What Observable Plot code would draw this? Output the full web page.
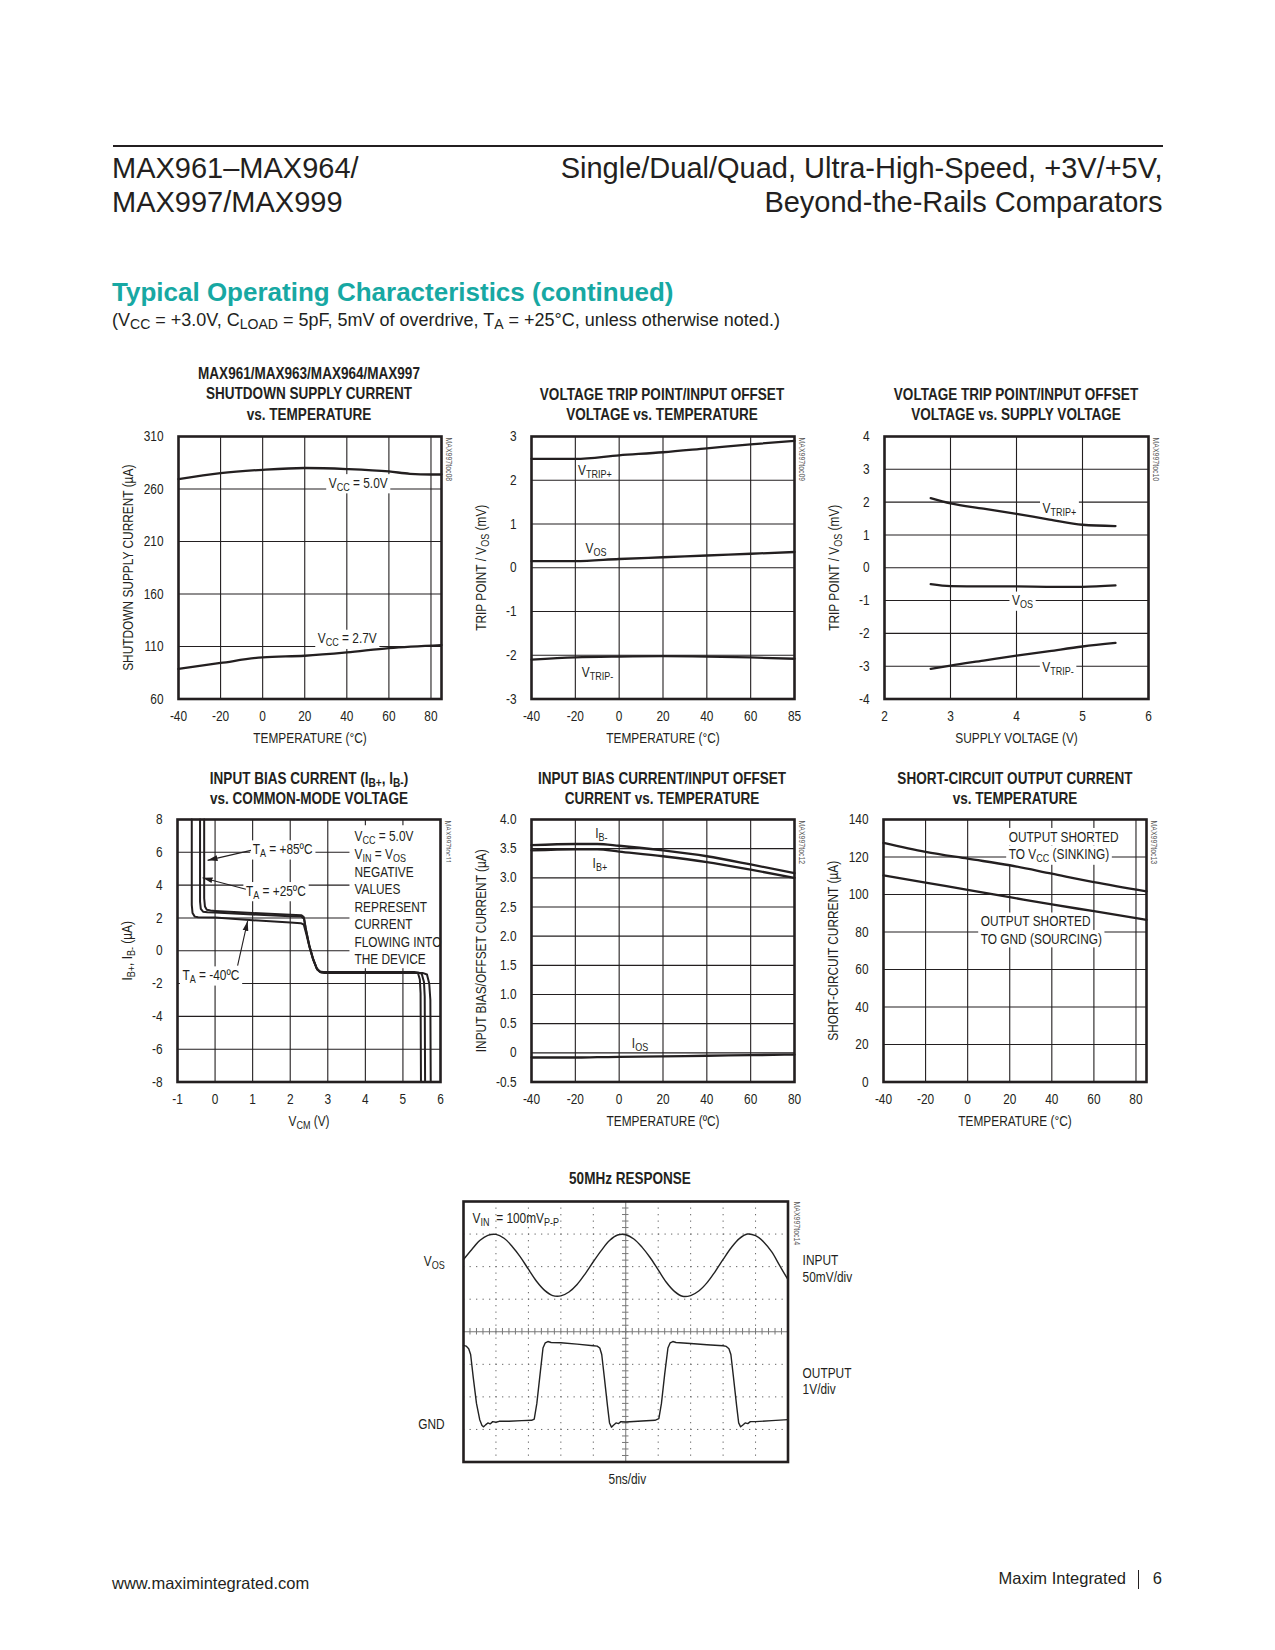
<!DOCTYPE html>
<html><head><meta charset="utf-8">
<script src="https://cdn.jsdelivr.net/npm/d3@7"></script>
<script src="https://cdn.jsdelivr.net/npm/@observablehq/plot@0.6"></script>
<style>
body{margin:0;background:#fff;}
#page{position:relative;width:1275px;height:1650px;overflow:hidden;background:#fff;color:#231f20;font-family:"Liberation Sans",Arial,sans-serif;}
.abs{position:absolute;white-space:nowrap;line-height:1;}
.ttl{position:absolute;white-space:nowrap;text-align:center;font-weight:bold;font-size:16.5px;line-height:20.5px;}
.abs sub{font-size:78%;vertical-align:-0.22em;line-height:0;}
.ttl sub{font-size:75%;vertical-align:-0.25em;line-height:0;}
</style></head>
<body><div id="page"></div>
<script>
// ---------------- DATA ----------------
// Chart 1: shutdown supply current vs temperature
const temp1 = [-40, -20, 0, 20, 40, 60, 70, 80, 85];
const shdn5V = [269.4, 275.1, 278.3, 280.0, 279.0, 276.7, 274.5, 273.8, 273.8];
const temp1b = [-40, -20, 0, 20, 40, 60, 85];
const shdn27V = [88.6, 94.3, 99.7, 101.2, 104.4, 108.5, 111.4];
const xTicks1 = [-40, -20, 0, 20, 40, 60, 80];
const xLabels1 = ["-40", "-20", "0", "20", "40", "60", "80"];
const yTicks1 = [60, 110, 160, 210, 260, 310];
const yLabels1 = ["60", "110", "160", "210", "260", "310"];

// Chart 2: trip point / Vos vs temperature (last tick printed as 85)
const temp2 = [-40, -20, 0, 20, 40, 60, 80];
const vtripPlusT = [2.49, 2.49, 2.57, 2.64, 2.73, 2.82, 2.90];
const vosT = [0.15, 0.15, 0.20, 0.24, 0.28, 0.32, 0.36];
const vtripMinusT = [-2.10, -2.05, -2.03, -2.02, -2.03, -2.05, -2.08];
const xTicks2 = [-40, -20, 0, 20, 40, 60, 80];
const xLabels2 = ["-40", "-20", "0", "20", "40", "60", "85"];
const yTicks2 = [-3, -2, -1, 0, 1, 2, 3];
const yLabels2 = ["-3", "-2", "-1", "0", "1", "2", "3"];

// Chart 3: trip point / Vos vs supply voltage
const supplyV = [2.7, 3.0, 3.5, 4.0, 4.5, 5.0, 5.5];
const vtripPlusV = [2.12, 1.96, 1.80, 1.64, 1.47, 1.31, 1.27];
const vosV = [-0.50, -0.56, -0.57, -0.57, -0.58, -0.58, -0.54];
const vtripMinusV = [-3.08, -2.98, -2.83, -2.68, -2.54, -2.40, -2.29];
const xTicks3 = [2, 3, 4, 5, 6];
const xLabels3 = ["2", "3", "4", "5", "6"];
const yTicks3 = [-4, -3, -2, -1, 0, 1, 2, 3, 4];
const yLabels3 = ["-4", "-3", "-2", "-1", "0", "1", "2", "3", "4"];

// Chart 4: input bias current vs common-mode voltage
const vcm85 = [-0.29, -0.29, -0.27, -0.22, -0.12, 0, 1, 2, 2.30, 2.36, 2.41, 2.50, 2.60, 2.70, 2.78, 2.88, 5.30, 5.40, 5.45, 5.47, 5.48];
const ib85 = [8, 3.2, 2.7, 2.5, 2.45, 2.43, 2.30, 2.20, 2.17, 2.05, 1.40, 0.40, -0.45, -1.05, -1.27, -1.30, -1.30, -1.36, -1.75, -2.6, -8];
const vcm25 = [-0.40, -0.40, -0.38, -0.32, -0.20, 0, 1, 2, 2.30, 2.37, 2.42, 2.51, 2.61, 2.71, 2.80, 2.90, 5.40, 5.50, 5.56, 5.58, 5.59];
const ib25 = [8, 3.0, 2.55, 2.38, 2.34, 2.33, 2.21, 2.10, 2.08, 1.95, 1.25, 0.30, -0.50, -1.10, -1.30, -1.32, -1.32, -1.40, -1.90, -2.8, -8];
const vcmM40 = [-0.62, -0.62, -0.60, -0.54, -0.45, 0, 1, 2, 2.28, 2.36, 2.43, 2.52, 2.62, 2.72, 2.82, 2.92, 5.52, 5.64, 5.70, 5.73, 5.74];
const ibM40 = [8, 2.8, 2.3, 2.08, 2.04, 2.02, 1.86, 1.72, 1.68, 1.60, 1.00, 0.15, -0.60, -1.15, -1.32, -1.35, -1.35, -1.45, -2.0, -3.0, -8];
const xTicks4 = [-1, 0, 1, 2, 3, 4, 5, 6];
const xLabels4 = ["-1", "0", "1", "2", "3", "4", "5", "6"];
const yTicks4 = [-8, -6, -4, -2, 0, 2, 4, 6, 8];
const yLabels4 = ["-8", "-6", "-4", "-2", "0", "2", "4", "6", "8"];

// Chart 5: input bias / offset current vs temperature
const temp5 = [-40, -20, -10, 0, 20, 40, 60, 80];
const ibMinus = [3.56, 3.58, 3.58, 3.55, 3.47, 3.37, 3.23, 3.08];
const ibPlus = [3.47, 3.49, 3.49, 3.45, 3.37, 3.27, 3.14, 3.00];
const iosT = [-0.08, -0.08, -0.075, -0.07, -0.06, -0.05, -0.04, -0.03];
const xTicks5 = [-40, -20, 0, 20, 40, 60, 80];
const xLabels5 = ["-40", "-20", "0", "20", "40", "60", "80"];
const yTicks5 = [-0.5, 0, 0.5, 1, 1.5, 2, 2.5, 3, 3.5, 4];
const yLabels5 = ["-0.5", "0", "0.5", "1.0", "1.5", "2.0", "2.5", "3.0", "3.5", "4.0"];

// Chart 6: short-circuit output current vs temperature
const temp6 = [-40, -20, 0, 20, 40, 60, 85];
const sinking = [127.5, 122.7, 119.1, 115.6, 111.1, 106.6, 101.7];
const sourcing = [110.2, 106.3, 102.5, 98.6, 94.7, 91.1, 86.5];
const xTicks6 = [-40, -20, 0, 20, 40, 60, 80];
const xLabels6 = ["-40", "-20", "0", "20", "40", "60", "80"];
const yTicks6 = [0, 20, 40, 60, 80, 100, 120, 140];
const yLabels6 = ["0", "20", "40", "60", "80", "100", "120", "140"];

// Chart 7: 50MHz response scope trace (divisions)
const tDiv = [0, 0.25, 0.5, 0.75, 1, 1.25, 1.5, 1.75, 2, 2.25, 2.5, 2.75, 3, 3.25, 3.5, 3.75, 4, 4.25, 4.5, 4.75, 5, 5.25, 5.5, 5.75, 6, 6.25, 6.5, 6.75, 7, 7.25, 7.5, 7.75, 8, 8.25, 8.5, 8.75, 9, 9.25, 9.5, 9.75, 10];
const inputDiv = [6.22, 6.52, 6.80, 6.96, 6.99, 6.87, 6.62, 6.30, 5.92, 5.55, 5.27, 5.11, 5.10, 5.22, 5.45, 5.78, 6.15, 6.50, 6.80, 6.97, 6.98, 6.85, 6.60, 6.28, 5.90, 5.52, 5.24, 5.09, 5.11, 5.25, 5.50, 5.84, 6.22, 6.58, 6.86, 7.00, 6.95, 6.76, 6.45, 6.02, 5.60];
const tOut = [0, 0.08, 0.16, 0.22, 0.30, 0.40, 0.50, 0.57, 0.62, 0.68, 0.75, 0.82, 0.90, 1.0, 1.1, 1.4, 1.8, 2.1, 2.18, 2.26, 2.36, 2.45, 2.52, 2.60, 2.70, 3.0, 3.5, 4.0, 4.12, 4.20, 4.26, 4.34, 4.44, 4.50, 4.56, 4.62, 4.70, 4.78, 4.85, 5.0, 5.5, 5.9, 6.02, 6.10, 6.20, 6.30, 6.37, 6.45, 6.55, 7.0, 7.5, 8.0, 8.10, 8.18, 8.24, 8.32, 8.42, 8.48, 8.54, 8.60, 8.68, 8.76, 8.84, 9.0, 9.5, 10.0];
const outputDiv = [3.58, 3.56, 3.48, 3.30, 2.60, 1.80, 1.30, 1.12, 1.08, 1.14, 1.20, 1.17, 1.24, 1.22, 1.25, 1.25, 1.27, 1.28, 1.32, 1.80, 2.70, 3.50, 3.66, 3.70, 3.67, 3.66, 3.62, 3.57, 3.56, 3.50, 3.30, 2.60, 1.70, 1.20, 1.07, 1.13, 1.20, 1.18, 1.24, 1.23, 1.26, 1.28, 1.33, 1.80, 2.70, 3.50, 3.66, 3.70, 3.67, 3.64, 3.60, 3.57, 3.55, 3.48, 3.30, 2.60, 1.70, 1.20, 1.08, 1.13, 1.20, 1.18, 1.24, 1.24, 1.27, 1.30];

// ---------------- SETUP ----------------
const NS = "http://www.w3.org/2000/svg";
const INK = "#231f20";
const page = document.getElementById("page");

function fontAvailable(name) {
  const ctx = document.createElement("canvas").getContext("2d");
  const s = "MAX961 TEMPERATURE (°C) 0123456789 wmWM";
  ctx.font = "40px monospace"; const a = ctx.measureText(s).width;
  ctx.font = `40px "${name}", monospace`; const b = ctx.measureText(s).width;
  return Math.abs(a - b) > 0.5;
}
const NARROW = fontAvailable("Liberation Sans Narrow") ? '"Liberation Sans Narrow"' :
               fontAvailable("Arial Narrow") ? '"Arial Narrow"' : null;
const CH_FONT = NARROW ? NARROW + ", sans-serif" : '"Liberation Sans", Arial, sans-serif';
const SQZ = NARROW ? 1 : 0.82;

function div(html, left, top, css) {
  const d = document.createElement("div");
  d.className = "abs";
  d.innerHTML = html;
  d.style.cssText += `left:${left}px;top:${top}px;` + (css || "");
  page.appendChild(d);
  return d;
}
function title(lines, cx, top, lh) {
  const d = document.createElement("div");
  d.className = "ttl";
  d.innerHTML = lines.join("<br>");
  d.style.left = cx + "px";
  d.style.top = top + "px";
  d.style.lineHeight = (lh || 20.5) + "px";
  d.style.fontFamily = CH_FONT;
  d.style.transform = `translateX(-50%) scaleX(${SQZ})`;
  page.appendChild(d);
}

// text post-processing: subscripts, condense fallback, white boxes, arrowheads
function subscripts(svg) {
  svg.querySelectorAll("text").forEach(t => {
    if (t.children.length) return;
    const s = t.textContent;
    if (!s.includes("_{")) return;
    const F = parseFloat(getComputedStyle(t).fontSize) || 14.5;
    const sh = +(0.2 * F).toFixed(2);
    t.textContent = "";
    let down = false;
    const add = (txt, sub) => {
      const ts = document.createElementNS(NS, "tspan");
      ts.textContent = txt;
      if (sub) { ts.setAttribute("font-size", (0.76 * F).toFixed(2)); if (!down) { ts.setAttribute("dy", sh); down = true; } }
      else if (down) { ts.setAttribute("dy", -sh); down = false; }
      t.appendChild(ts);
    };
    const re = /_\{([^}]*)\}/g; let last = 0, m;
    while ((m = re.exec(s))) { if (m.index > last) add(s.slice(last, m.index), false); add(m[1], true); last = re.lastIndex; }
    if (last < s.length) add(s.slice(last), false);
  });
}
function squeeze(svg) {
  if (SQZ === 1) return;
  svg.querySelectorAll("text").forEach(t => {
    const x = parseFloat(t.getAttribute("x") || "0");
    if (x !== 0) return;
    t.setAttribute("transform", (t.getAttribute("transform") || "") + ` scale(${SQZ},1)`);
  });
}
function boxes(svg) {
  const sb = svg.getBoundingClientRect();
  const rect = (g, x, y, w, h) => {
    const r = document.createElementNS(NS, "rect");
    r.setAttribute("x", x); r.setAttribute("y", y); r.setAttribute("width", w); r.setAttribute("height", h);
    r.setAttribute("fill", "#fff");
    g.parentNode.insertBefore(r, g);
  };
  svg.querySelectorAll('g[aria-description="boxed"]').forEach(g => {
    g.querySelectorAll("text").forEach(t => {
      const b = t.getBoundingClientRect();
      rect(g, b.left - sb.left - 2.5, b.top - sb.top - 0.5, b.width + 5, b.height + 1);
    });
  });
  svg.querySelectorAll('g[aria-description="boxunion"]').forEach(g => {
    let x0 = 1e9, y0 = 1e9, x1 = -1e9, y1 = -1e9;
    g.querySelectorAll("text").forEach(t => {
      const b = t.getBoundingClientRect();
      x0 = Math.min(x0, b.left); y0 = Math.min(y0, b.top); x1 = Math.max(x1, b.right); y1 = Math.max(y1, b.bottom);
    });
    rect(g, x0 - sb.left - 5, y0 - sb.top - 3, x1 - x0 + 10, y1 - y0 + 4);
  });
}
let markerId = 0;
function arrowheads(svg) {
  const paths = svg.querySelectorAll('g[aria-description="arrows"] path');
  if (!paths.length) return;
  const id = "ah" + (markerId++);
  const defs = document.createElementNS(NS, "defs");
  defs.innerHTML = `<marker id="${id}" viewBox="0 0 10 10" refX="10" refY="5" markerWidth="10" markerHeight="10" markerUnits="userSpaceOnUse" orient="auto"><path d="M0,2.1L10,5L0,7.9Z" fill="${INK}"/></marker>`;
  svg.insertBefore(defs, svg.firstChild);
  paths.forEach(p => p.setAttribute("marker-end", `url(#${id})`));
}
function mount(svg, left, top) {
  const d = document.createElement("div");
  d.style.cssText = `position:absolute;left:${left}px;top:${top}px;`;
  svg.style.display = "block";
  svg.style.maxWidth = "none";
  d.appendChild(svg);
  page.appendChild(d);
  subscripts(svg);
  squeeze(svg);
  boxes(svg);
  arrowheads(svg);
}

const ML = 80, MR = 30, MT = 14, MB = 60;
const lineMark = (xs, ys, opts = {}) =>
  Plot.line(xs.map((x, i) => ({x, y: ys[i]})), {x: "x", y: "y", stroke: INK, strokeWidth: 2.3, strokeLinejoin: "round", curve: "monotone-x", ...opts});
const noteMark = (notes, opts = {}) =>
  Plot.text(notes, {x: "x", y: "y", text: "text", fill: INK, lineAnchor: "middle", ...opts});

function chart(c) {
  const [fx, fy, fw, fh] = c.frame;
  const width = fw + ML + MR, height = fh + MT + MB;
  const interior = (t, d) => t.filter(v => v > d[0] && v < d[1]);
  const marks = [
    Plot.gridX({ticks: c.xGrid || interior(c.xTicks, c.xDomain), stroke: INK, strokeOpacity: 1, strokeWidth: 1.1}),
    Plot.gridY({ticks: c.yGrid || interior(c.yTicks, c.yDomain), stroke: INK, strokeOpacity: 1, strokeWidth: 1.1}),
    Plot.axisX({ticks: c.xTicks, tickFormat: d => c.xLabels[c.xTicks.indexOf(d)], tickSize: 0, tickPadding: 11.5, label: null, fill: INK}),
    Plot.axisY({ticks: c.yTicks, tickFormat: d => c.yLabels[c.yTicks.indexOf(d)], tickSize: 0, tickPadding: 15, label: null, fill: INK}),
    Plot.text([c.xTitle], {text: d => d, frameAnchor: "bottom", dy: 39, textAnchor: "middle", lineAnchor: "middle", fill: INK}),
    Plot.text([c.yTitle], {text: d => d, frameAnchor: "left", dx: -50, rotate: -90, textAnchor: "middle", lineAnchor: "middle", fill: INK}),
    Plot.text([c.wm], {text: d => d, frameAnchor: "top-right", dx: 7.5, dy: 1, rotate: 90, textAnchor: "start", lineAnchor: "middle", fontSize: 8.5, fill: "#555"}),
    ...(c.notes || []),
    ...c.lines,
    Plot.frame({stroke: INK, strokeWidth: 2.6})
  ];
  const svg = Plot.plot({
    width, height, marginLeft: ML, marginRight: MR, marginTop: MT, marginBottom: MB,
    x: {type: "linear", domain: c.xDomain},
    y: {type: "linear", domain: c.yDomain},
    style: {fontFamily: CH_FONT, fontSize: "14.5px", color: INK, background: "transparent", overflow: "visible"},
    marks
  });
  mount(svg, fx - ML, fy - MT);
}

// ---------------- PAGE TEXT ----------------
const rule = document.createElement("div");
rule.style.cssText = "position:absolute;left:112.5px;top:145px;width:1050px;height:2px;background:#231f20;";
page.appendChild(rule);
div("MAX961–MAX964/", 112, 154, "font-size:29px;");
div("MAX997/MAX999", 112, 188, "font-size:29px;");
div("Single/Dual/Quad, Ultra-High-Speed, +3V/+5V,", 0, 154, "font-size:29px;left:auto;right:112.5px;text-align:right;");
div("Beyond-the-Rails Comparators", 0, 188, "font-size:29px;left:auto;right:112.5px;text-align:right;");
div("Typical Operating Characteristics (continued)", 112, 278.5, "font-size:26px;font-weight:bold;color:#17a8a3;");
div("(V<sub>CC</sub> = +3.0V, C<sub>LOAD</sub> = 5pF, 5mV of overdrive, T<sub>A</sub> = +25°C, unless otherwise noted.)", 112, 310.5, "font-size:18px;");
div("www.maximintegrated.com", 112, 1575, "font-size:16.5px;");
div("Maxim Integrated", 0, 1570, "font-size:16.5px;left:auto;right:149px;text-align:right;");
div("6", 0, 1570, "font-size:16.5px;left:auto;right:113px;text-align:right;");
const bar = document.createElement("div");
bar.style.cssText = "position:absolute;left:1137.5px;top:1569.5px;width:1px;height:19px;background:#231f20;";
page.appendChild(bar);

// chart titles
title(["MAX961/MAX963/MAX964/MAX997", "SHUTDOWN SUPPLY CURRENT", "vs. TEMPERATURE"], 309, 362.75);
title(["VOLTAGE TRIP POINT/INPUT OFFSET", "VOLTAGE vs. TEMPERATURE"], 662, 383.75);
title(["VOLTAGE TRIP POINT/INPUT OFFSET", "VOLTAGE vs. SUPPLY VOLTAGE"], 1016, 383.75);
title(["INPUT BIAS CURRENT (I<sub>B+</sub>, I<sub>B-</sub>)", "vs. COMMON-MODE VOLTAGE"], 309, 767.5);
title(["INPUT BIAS CURRENT/INPUT OFFSET", "CURRENT vs. TEMPERATURE"], 662, 767.5);
title(["SHORT-CIRCUIT OUTPUT CURRENT", "vs. TEMPERATURE"], 1015, 767.5);
title(["50MHz RESPONSE"], 630, 1167.75);

// ---------------- CHARTS ----------------
// 1
chart({
  frame: [177.5, 435.5, 263, 262.5], xDomain: [-40, 85], yDomain: [60, 310],
  xTicks: xTicks1, xLabels: xLabels1, yTicks: yTicks1, yLabels: yLabels1,
  xGrid: [-20, 0, 20, 40, 60, 80],
  xTitle: "TEMPERATURE (°C)", yTitle: "SHUTDOWN SUPPLY CURRENT (µA)", wm: "MAX997toc08",
  notes: [noteMark([{x: 45.4, y: 265.6, text: "V_{CC} = 5.0V"}, {x: 40.2, y: 117.4, text: "V_{CC} = 2.7V"}], {ariaDescription: "boxed"})],
  lines: [lineMark(temp1, shdn5V), lineMark(temp1b, shdn27V)]
});
// 2
chart({
  frame: [530.5, 435.5, 263, 262.5], xDomain: [-40, 80], yDomain: [-3, 3],
  xTicks: xTicks2, xLabels: xLabels2, yTicks: yTicks2, yLabels: yLabels2,
  xTitle: "TEMPERATURE (°C)", yTitle: "TRIP POINT / V_{OS} (mV)", wm: "MAX997toc09",
  notes: [noteMark([{x: -11.1, y: 2.22, text: "V_{TRIP+}"}, {x: -10.6, y: 0.44, text: "V_{OS}"}, {x: -9.9, y: -2.39, text: "V_{TRIP-}"}])],
  lines: [lineMark(temp2, vtripPlusT), lineMark(temp2, vosT), lineMark(temp2, vtripMinusT)]
});
// 3
chart({
  frame: [883.5, 435.5, 264, 262.5], xDomain: [2, 6], yDomain: [-4, 4],
  xTicks: xTicks3, xLabels: xLabels3, yTicks: yTicks3, yLabels: yLabels3,
  xTitle: "SUPPLY VOLTAGE (V)", yTitle: "TRIP POINT / V_{OS} (mV)", wm: "MAX997toc10",
  notes: [noteMark([{x: 4.65, y: 1.81, text: "V_{TRIP+}"}, {x: 4.09, y: -1.0, text: "V_{OS}"}, {x: 4.63, y: -3.03, text: "V_{TRIP-}"}], {ariaDescription: "boxed"})],
  lines: [lineMark(supplyV, vtripPlusV), lineMark(supplyV, vosV), lineMark(supplyV, vtripMinusV)]
});
// 4
const labels4 = [
  {x: 1.0, y: 6.18, text: "T_{A} = +85ºC"},
  {x: 0.82, y: 3.64, text: "T_{A} = +25ºC"},
  {x: -0.87, y: -1.5, text: "T_{A} = -40ºC"}
];
const block4 = [
  {x: 3.71, y: 6.95, text: "V_{CC} = 5.0V"},
  {x: 3.71, y: 5.85, text: "V_{IN} = V_{OS}"},
  {x: 3.71, y: 4.78, text: "NEGATIVE"},
  {x: 3.71, y: 3.72, text: "VALUES"},
  {x: 3.71, y: 2.66, text: "REPRESENT"},
  {x: 3.71, y: 1.60, text: "CURRENT"},
  {x: 3.71, y: 0.54, text: "FLOWING INTO"},
  {x: 3.71, y: -0.52, text: "THE DEVICE"}
];
const arrows4 = [
  {x1: 0.955, y1: 6.12, x2: -0.20, y2: 5.51},
  {x1: 0.82, y1: 3.75, x2: -0.333, y2: 4.45},
  {x1: 0.60, y1: -0.91, x2: 0.867, y2: 1.82}
];
chart({
  frame: [177, 819, 263, 262.5], xDomain: [-1, 6], yDomain: [-8, 8],
  xTicks: xTicks4, xLabels: xLabels4, yTicks: yTicks4, yLabels: yLabels4,
  xTitle: "V_{CM} (V)", yTitle: "I_{B+}, I_{B-} (µA)", wm: "MAX997toc11",
  notes: [
    noteMark(labels4, {textAnchor: "start", ariaDescription: "boxed"}),
    noteMark(block4, {textAnchor: "start", ariaDescription: "boxunion"}),
    Plot.link(arrows4, {x1: "x1", y1: "y1", x2: "x2", y2: "y2", stroke: INK, strokeWidth: 1.1, ariaDescription: "arrows"})
  ],
  lines: [
    lineMark(vcm85, ib85, {curve: "linear", strokeWidth: 2}),
    lineMark(vcm25, ib25, {curve: "linear", strokeWidth: 2}),
    lineMark(vcmM40, ibM40, {curve: "linear", strokeWidth: 2})
  ]
});
// 5
chart({
  frame: [530.5, 819, 263, 262.5], xDomain: [-40, 80], yDomain: [-0.5, 4],
  xTicks: xTicks5, xLabels: xLabels5, yTicks: yTicks5, yLabels: yLabels5,
  xTitle: "TEMPERATURE (ºC)", yTitle: "INPUT BIAS/OFFSET CURRENT (µA)", wm: "MAX997toc12",
  notes: [noteMark([{x: -8.1, y: 3.76, text: "I_{B-}"}, {x: -8.8, y: 3.24, text: "I_{B+}"}, {x: 9.5, y: 0.16, text: "I_{OS}"}])],
  lines: [lineMark(temp5, ibMinus), lineMark(temp5, ibPlus), lineMark(temp5, iosT)]
});
// 6
chart({
  frame: [883, 819, 263, 262.5], xDomain: [-40, 85], yDomain: [0, 140],
  xTicks: xTicks6, xLabels: xLabels6, yTicks: yTicks6, yLabels: yLabels6,
  xGrid: [-20, 0, 20, 40, 60, 80],
  xTitle: "TEMPERATURE (°C)", yTitle: "SHORT-CIRCUIT CURRENT (µA)", wm: "MAX997toc13",
  notes: [noteMark([
    {x: 19.5, y: 130.7, text: "OUTPUT SHORTED"},
    {x: 19.5, y: 121.3, text: "TO V_{CC} (SINKING)"},
    {x: 6.2, y: 85.6, text: "OUTPUT SHORTED"},
    {x: 6.2, y: 76.3, text: "TO GND (SOURCING)"}
  ], {textAnchor: "start", ariaDescription: "boxed"})],
  lines: [lineMark(temp6, sinking), lineMark(temp6, sourcing)]
});

// 7 scope
(function () {
  const fx = 462.5, fy = 1200.5, fw = 324.5, fh = 260.5;
  const L = 70, R = 75, T = 10, B = 32;
  const minorX = d3.range(0, 10.001, 0.2), minorY = d3.range(0, 8.001, 0.2);
  const svg = Plot.plot({
    width: fw + L + R, height: fh + T + B, marginLeft: L, marginRight: R, marginTop: T, marginBottom: B,
    x: {type: "linear", domain: [0, 10], axis: null},
    y: {type: "linear", domain: [0, 8], axis: null},
    style: {fontFamily: CH_FONT, fontSize: "14.5px", color: INK, background: "transparent", overflow: "visible"},
    marks: [
      Plot.gridX({ticks: [1, 2, 3, 4, 6, 7, 8, 9], stroke: "#666", strokeOpacity: 1, strokeWidth: 1, strokeDasharray: "1.3,5.2"}),
      Plot.gridY({ticks: [1, 2, 3, 5, 6, 7], stroke: "#666", strokeOpacity: 1, strokeWidth: 1, strokeDasharray: "1.3,5.2"}),
      Plot.ruleX([5], {stroke: "#777", strokeWidth: 1}),
      Plot.ruleY([4], {stroke: "#777", strokeWidth: 1}),
      Plot.ruleX(minorX, {y1: 3.9, y2: 4.1, stroke: "#777", strokeWidth: 1}),
      Plot.ruleY(minorY, {x1: 4.9, x2: 5.1, stroke: "#777", strokeWidth: 1}),
      noteMark([{x: 0.28, y: 7.48, text: "V_{IN}  = 100mV_{P-P}"}], {textAnchor: "start"}),
      noteMark([{x: -0.58, y: 6.17, text: "V_{OS}"}, {x: -0.58, y: 1.15, text: "GND"}], {textAnchor: "end"}),
      noteMark([{x: 10.45, y: 6.2, text: "INPUT"}, {x: 10.45, y: 5.66, text: "50mV/div"}, {x: 10.45, y: 2.73, text: "OUTPUT"}, {x: 10.45, y: 2.22, text: "1V/div"}], {textAnchor: "start"}),
      noteMark([{x: 5.05, y: -0.54, text: "5ns/div"}]),
      Plot.text(["MAX997toc14"], {text: d => d, frameAnchor: "top-right", dx: 9, dy: 0, rotate: 90, textAnchor: "start", lineAnchor: "middle", fontSize: 8.5, fill: "#555"}),
      lineMark(tDiv, inputDiv, {curve: "catmull-rom", strokeWidth: 1.4, stroke: "#222"}),
      lineMark(tOut, outputDiv, {curve: "linear", strokeWidth: 1.4, stroke: "#222"}),
      Plot.frame({stroke: INK, strokeWidth: 2.6})
    ]
  });
  mount(svg, fx - L, fy - T);
})();
</script></body></html>
